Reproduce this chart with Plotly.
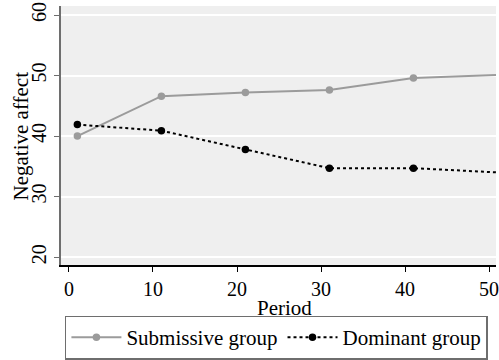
import plotly.graph_objects as go

periods = [1, 11, 21, 31, 41, 51]
submissive = [40.0, 46.6, 47.2, 47.6, 49.6, 50.1]
dominant = [41.9, 40.9, 37.8, 34.7, 34.7, 34.0]
x_ticks = [0, 10, 20, 30, 40, 50]
y_ticks = [20, 30, 40, 50, 60]

FONT = "Liberation Serif"

fig = go.Figure()
fig.add_trace(go.Scatter(
    x=periods, y=submissive, name="Submissive group", mode="lines+markers",
    line=dict(color="#9b9b9b", width=2), marker=dict(color="#9b9b9b", size=7.5),
    cliponaxis=False))
fig.add_trace(go.Scatter(
    x=periods, y=dominant, name="Dominant group", mode="lines+markers",
    line=dict(color="#000000", width=2, dash="dot"), marker=dict(color="#000000", size=7.5),
    cliponaxis=False))

fig.update_layout(
    width=499, height=360,
    margin=dict(l=61, r=0, t=6, b=92),
    paper_bgcolor="white", plot_bgcolor="#efefef",
    font=dict(family=FONT, size=20, color="#000000"),
    showlegend=True,
    legend=dict(orientation="h", x=0.009, xanchor="left", y=-0.195, yanchor="top",
                bordercolor="#6e6e6e", borderwidth=1.5, bgcolor="white",
                font=dict(family=FONT, size=21), itemwidth=50,
                traceorder="normal"),
    annotations=[
        dict(text="Negative affect", xref="paper", yref="paper",
             x=-0.092, y=0.5, xanchor="center", yanchor="middle",
             textangle=-90, showarrow=False, font=dict(family=FONT, size=21)),
        dict(text="Period", xref="paper", yref="paper",
             x=0.514, y=-0.165, xanchor="center", yanchor="middle",
             showarrow=False, font=dict(family=FONT, size=21)),
    ],
)
fig.update_xaxes(
    range=[-0.95, 50.83], tickvals=x_ticks, ticks="outside", ticklen=5,
    tickcolor="#000000", showline=True, linecolor="#000000", linewidth=1.5,
    showgrid=False, zeroline=False,
    tickfont=dict(family=FONT, size=20), ticklabeloverflow="allow")
fig.update_yaxes(
    range=[18.7, 61.5], tickvals=y_ticks, ticks="outside", ticklen=5,
    tickcolor="#6e6e6e", showline=True, linecolor="#6e6e6e", linewidth=1.5,
    showgrid=True, gridcolor="white", gridwidth=1.5, zeroline=False,
    tickangle=-90,
    tickfont=dict(family=FONT, size=20), ticklabeloverflow="allow")

fig.write_html("out.html", config={"displayModeBar": False},
               post_script="document.body.style.margin='0';document.body.style.overflow='hidden';")
